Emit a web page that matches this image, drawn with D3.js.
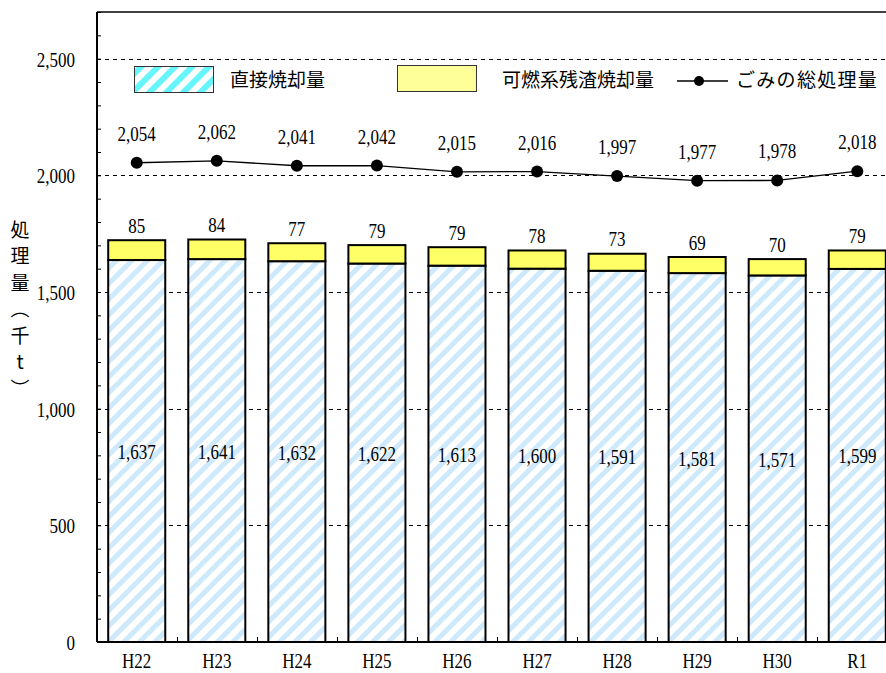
<!DOCTYPE html>
<html>
<head>
<meta charset="utf-8">
<script src="https://cdn.jsdelivr.net/npm/d3@7"></script>
<style>
  html, body { margin: 0; padding: 0; background: #fff; }
  svg { display: block; }
  .num { font-family: "Liberation Serif", "Times New Roman", serif; font-size: 20px; fill: #000; }
  .jp { font-family: "Noto Sans CJK JP", sans-serif; font-size: 19px; fill: #000; }
</style>
</head>
<body>
<svg id="chart" width="886" height="673"></svg>
<script>
// Fiscal years
const years = ["H22", "H23", "H24", "H25", "H26", "H27", "H28", "H29", "H30", "R1"];
// 直接焼却量 (thousand t)
const directIncineration = [1637, 1641, 1632, 1622, 1613, 1600, 1591, 1581, 1571, 1599];
// 可燃系残渣焼却量 (thousand t)
const residueIncineration = [85, 84, 77, 79, 79, 78, 73, 69, 70, 79];
// ごみの総処理量 (thousand t)
const totalProcessed = [2054, 2062, 2041, 2042, 2015, 2016, 1997, 1977, 1978, 2018];
// Y axis ticks
const yMajorTicks = [0, 500, 1000, 1500, 2000, 2500];
const yMinorTicks = d3.range(0, 2701, 100);

const fmt = d3.format(",");
const svg = d3.select("#chart");

const plotLeft = 97, plotTop = 12, plotBottom = 642, plotRight = 897;
const squeeze = 0.85; // narrow serif numerals

const x = d3.scaleBand().domain(years).range([plotLeft, plotRight]).paddingInner(0.2875).paddingOuter(0.14);
const y = d3.scaleLinear().domain([0, 2700]).range([plotBottom, plotTop]);
const cx = (yr) => x(yr) + x.bandwidth() / 2;

// Narrowed serif number text
function numText(parent, px, py, str, anchor = "middle") {
  return parent.append("text").attr("class", "num")
    .attr("text-anchor", anchor)
    .attr("transform", `translate(${px},${py}) scale(${squeeze},1)`)
    .text(str);
}

// Patterns
const defs = svg.append("defs");
const barHatch = defs.append("pattern")
  .attr("id", "barHatch").attr("patternUnits", "userSpaceOnUse")
  .attr("width", 11).attr("height", 11)
  .attr("patternTransform", "rotate(45)");
barHatch.append("rect").attr("width", 11).attr("height", 11).attr("fill", "#fff");
barHatch.append("rect").attr("width", 5).attr("height", 11).attr("fill", "#cde9fb");

const legHatch = defs.append("pattern")
  .attr("id", "legHatch").attr("patternUnits", "userSpaceOnUse")
  .attr("width", 12).attr("height", 12)
  .attr("patternTransform", "rotate(45)");
legHatch.append("rect").attr("width", 12).attr("height", 12).attr("fill", "#fff");
legHatch.append("rect").attr("width", 6).attr("height", 12).attr("fill", "#66f5fa");

// Dashed grid lines
svg.append("g").selectAll("line").data(yMajorTicks.filter(d => d > 0)).join("line")
  .attr("x1", plotLeft).attr("x2", 886)
  .attr("y1", d => Math.round(y(d)) + 0.5).attr("y2", d => Math.round(y(d)) + 0.5)
  .attr("stroke", "#000").attr("stroke-width", 1).attr("stroke-dasharray", "4,4");

// Stacked bars
const barG = svg.append("g");
years.forEach((yr, i) => {
  const x0 = x(yr), w = x.bandwidth();
  const d = directIncineration[i], r = residueIncineration[i];
  barG.append("rect")
    .attr("x", x0).attr("y", y(d)).attr("width", w).attr("height", y(0) - y(d))
    .attr("fill", "url(#barHatch)").attr("stroke", "#000").attr("stroke-width", 2);
  barG.append("rect")
    .attr("x", x0).attr("y", y(d + r)).attr("width", w).attr("height", y(d) - y(d + r))
    .attr("fill", "#ffff66").attr("stroke", "#000").attr("stroke-width", 2);
  numText(barG, cx(yr), y(d / 2) + 8, fmt(d));
  numText(barG, cx(yr), y(d + r) - 7.5, fmt(r));
});

// Total processed line
svg.append("path")
  .datum(totalProcessed)
  .attr("fill", "none").attr("stroke", "#000").attr("stroke-width", 1.3)
  .attr("d", d3.line().x((d, i) => cx(years[i])).y(d => y(d)));
svg.append("g").selectAll("circle").data(totalProcessed).join("circle")
  .attr("cx", (d, i) => cx(years[i])).attr("cy", d => y(d)).attr("r", 6).attr("fill", "#000");
const totG = svg.append("g");
totalProcessed.forEach((d, i) => numText(totG, cx(years[i]), y(d) - 22, fmt(d)));

// Y axis: inward ticks every 100
svg.append("g").attr("transform", `translate(${plotLeft},0)`)
  .call(d3.axisLeft(y).tickValues(yMinorTicks).tickSize(-4).tickFormat(""))
  .call(g => g.select(".domain").remove())
  .call(g => g.selectAll("line").attr("stroke", "#000"));
// Y axis labels
const yLab = svg.append("g");
yMajorTicks.forEach(v => numText(yLab, 75, y(v) + 8, fmt(v), "end"));

// X axis category labels
const xLab = svg.append("g");
years.forEach(yr => numText(xLab, cx(yr), plotBottom + 26, yr));
// Category separator ticks on x axis
svg.append("g").selectAll("line").data(years.slice(1)).join("line")
  .attr("x1", d => Math.round(x(d) - x.step() * x.paddingInner() / 2) + 0.5)
  .attr("x2", d => Math.round(x(d) - x.step() * x.paddingInner() / 2) + 0.5)
  .attr("y1", plotBottom).attr("y2", plotBottom - 5)
  .attr("stroke", "#000").attr("stroke-width", 1);

// Frame
svg.append("line").attr("x1", plotLeft).attr("x2", plotLeft).attr("y1", plotTop).attr("y2", plotBottom)
  .attr("stroke", "#000").attr("stroke-width", 2);
svg.append("line").attr("x1", plotLeft).attr("x2", 886).attr("y1", plotBottom).attr("y2", plotBottom)
  .attr("stroke", "#000").attr("stroke-width", 2);
svg.append("line").attr("x1", plotLeft).attr("x2", 886).attr("y1", plotTop).attr("y2", plotTop)
  .attr("stroke", "#000").attr("stroke-width", 1.5);

// Legend
const leg = svg.append("g");
leg.append("rect").attr("x", 134.5).attr("y", 66.5).attr("width", 79).attr("height", 26)
  .attr("fill", "url(#legHatch)").attr("stroke", "#333").attr("stroke-width", 1);
leg.append("text").attr("class", "jp").attr("x", 230).attr("y", 87).text("直接焼却量");
leg.append("rect").attr("x", 397.5).attr("y", 65.5).attr("width", 79).attr("height", 26)
  .attr("fill", "#ffff99").attr("stroke", "#333").attr("stroke-width", 1);
leg.append("text").attr("class", "jp").attr("x", 502).attr("y", 87).text("可燃系残渣焼却量");
leg.append("line").attr("x1", 677).attr("x2", 728).attr("y1", 81).attr("y2", 81)
  .attr("stroke", "#000").attr("stroke-width", 1.3);
leg.append("circle").attr("cx", 699).attr("cy", 81).attr("r", 5).attr("fill", "#000");
leg.append("text").attr("class", "jp").attr("x", 736).attr("y", 87)
  .attr("letter-spacing", 1.3).text("ごみの総処理量");

// Vertical axis title
svg.append("text").attr("class", "jp")
  .attr("x", 20).attr("y", 220)
  .attr("writing-mode", "vertical-rl")
  .style("text-orientation", "upright")
  .attr("letter-spacing", 7.5)
  .text("処理量（千t）");
</script>
</body>
</html>
